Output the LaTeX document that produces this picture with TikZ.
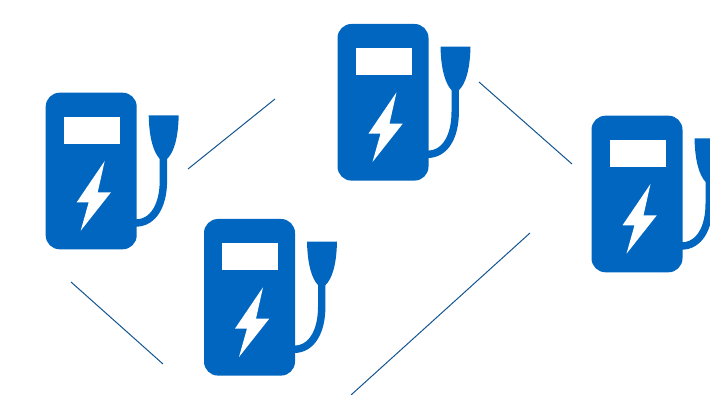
\documentclass[tikz,border=0pt]{standalone}
\usepackage{xcolor}
\usetikzlibrary{positioning}
\definecolor{pumpblue}{HTML}{0066BF}
\definecolor{linkblue}{HTML}{14558F}

\begin{document}
\begin{tikzpicture}[
    x=1pt, y=-1pt,
    link/.style={linkblue, line width=1pt},
    pump/.pic={
        \fill[pumpblue, rounded corners=14] (0,0) rectangle (91,156.6);
        \fill[white] (18.3,24) rectangle (74.3,51);
        \fill[white] (59,68.3) -- (52,99.6) -- (65.3,99.6) -- (35,138) -- (43,109.6) -- (31,109.6) -- cycle;
        \fill[pumpblue] (103,22.6) .. controls (103.5,46) and (108,60) .. (114.2,66.3) -- (121.3,66.3) .. controls (128,60) and (132.5,46) .. (133,22.6) -- cycle;
        \draw[pumpblue, line width=7.4pt] (117.7,60) -- (117.7,88) .. controls (117.7,112) and (108,130.3) .. (90,130.3);
    }
]
    \clip (0,0) rectangle (710,395);
    \fill[white] (0,0) rectangle (710,395);

    \pic at (45.7,92.7) {pump};
    \pic at (337.5,24) {pump};
    \pic at (591.5,115.7) {pump};
    \pic at (204,219) {pump};

    \coordinate (westA) at (188,169);
    \coordinate (northA) at (275,99);
    \coordinate (northB) at (479,82);
    \coordinate (eastA) at (572,164);
    \coordinate (westB) at (71,282);
    \coordinate (southA) at (163,364);
    \coordinate (southB) at (351,395);
    \coordinate (eastB) at (530,233);

    \draw[link] (westA) -- (northA);
    \draw[link] (northB) -- (eastA);
    \draw[link] (westB) -- (southA);
    \draw[link] (southB) -- (eastB);
\end{tikzpicture}
\end{document}
